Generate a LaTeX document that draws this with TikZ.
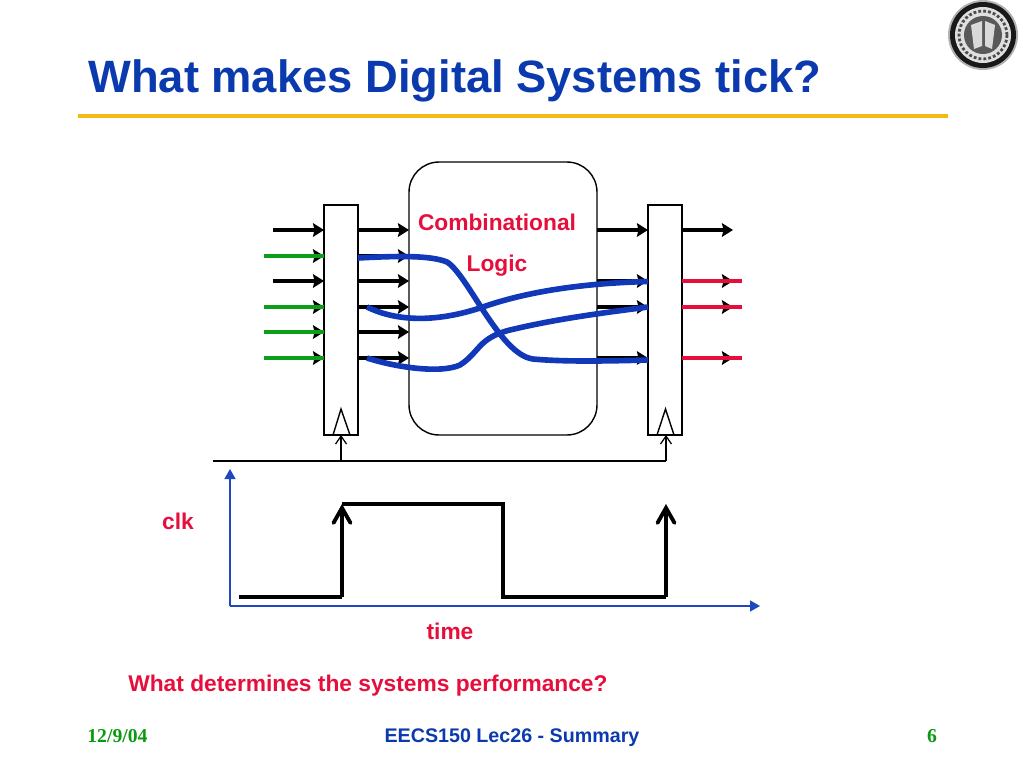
\documentclass[tikz,border=0pt]{standalone}
\usepackage{fontspec}
\setmainfont{Liberation Sans}
\newfontfamily\serifbold{Liberation Serif}
\usepackage{tikz}
\usetikzlibrary{arrows.meta, positioning}
\definecolor{TitleBlue}{HTML}{0B3AAE}
\definecolor{WireBlue}{HTML}{1038B8}
\definecolor{AxisBlue}{HTML}{1F48C0}
\definecolor{LabelRed}{HTML}{E60F3C}
\definecolor{WireGreen}{HTML}{0C9E18}
\definecolor{DateGreen}{HTML}{0A9A10}
\definecolor{RuleGold}{HTML}{F5B914}

\begin{document}
\begin{tikzpicture}[
    x=0.02cm, y=-0.02cm,
    regbox/.style={rectangle, draw, line width=0.8pt, fill=white, minimum width=0.68cm, minimum height=4.6cm, inner sep=0pt, outer sep=0pt},
    logicbox/.style={rectangle, draw, line width=0.8pt, fill=white, rounded corners=0.6cm, minimum width=3.76cm, minimum height=5.46cm, inner sep=0pt, outer sep=0pt},
    arrow/.style={-{Stealth[length=2.2mm, width=2.7mm, inset=0.3mm]}, line width=1.9pt},
    thinarrow/.style={-{Straight Barb[length=1.6mm, width=2.2mm]}, line width=0.7pt},
    greenwire/.style={WireGreen, line width=2.7pt},
    redwire/.style={LabelRed, line width=2.7pt},
    bluewire/.style={WireBlue, line width=3.2pt},
    axis/.style={AxisBlue, line width=0.8pt, -{Triangle[length=2mm, width=2.2mm]}},
    wave/.style={line width=2.2pt},
    waveup/.style={line width=2.2pt, -{Straight Barb[length=3mm, width=3.4mm, line cap=round]}},
    label/.style={font=\fontsize{12.95}{15}\selectfont\bfseries, text=LabelRed, inner sep=0pt}
]
\useasboundingbox (0,0) rectangle (1024,768);

\node[font=\fontsize{25.8}{30}\selectfont\bfseries, text=TitleBlue, inner sep=0pt, anchor=base west] (title) at (88,92) {What makes Digital Systems tick?};
\coordinate (ruleL) at (78,116);
\coordinate (ruleR) at (948,116);
\draw[RuleGold, line width=2.4pt] (ruleL) -- (ruleR);

% seal
\fill[gray!60] (983,35) circle (35);
\fill[black!90] (983,35) circle (33);
\fill[gray!25] (983,35) circle (28);
\draw[black!70, line width=1.6pt, dash pattern=on 1.6pt off 1.2pt] (983,35) circle (24);
\fill[black!65] (983,35) circle (19);
\fill[gray!30] (971,25) -- (982,21) -- (982,46) -- (974,49) -- cycle;
\fill[gray!30] (985,21) -- (995,25) -- (992,49) -- (985,46) -- cycle;

% registers and logic
\node[logicbox] (logic) at (503,298.5) {};
\node[regbox, left=1.02cm of logic.south west, anchor=south east] (ffin) {};
\node[regbox, right=1.02cm of logic.south east, anchor=south west] (ffout) {};

\node[label, anchor=base] (comb) at (497,230) {Combinational};
\node[label, anchor=base] (lgc) at (497,271) {Logic};

% inputs
\coordinate (in1) at (273,230);
\coordinate (in2) at (273,256);
\coordinate (in3) at (273,281);
\coordinate (in4) at (273,307);
\coordinate (in5) at (273,332);
\coordinate (in6) at (273,358);
\draw[arrow] (in1) -- (in1 -| ffin.west);
\draw[arrow] (in2) -- (in2 -| ffin.west);
\draw[arrow] (in3) -- (in3 -| ffin.west);
\draw[arrow] (in4) -- (in4 -| ffin.west);
\draw[arrow] (in5) -- (in5 -| ffin.west);
\draw[arrow] (in6) -- (in6 -| ffin.west);
\draw[greenwire] (264,256) -- (in2 -| ffin.west);
\draw[greenwire] (264,307) -- (in4 -| ffin.west);
\draw[greenwire] (264,332) -- (in5 -| ffin.west);
\draw[greenwire] (264,358) -- (in6 -| ffin.west);

% into the logic
\draw[arrow] (in1 -| ffin.east) -- (in1 -| logic.west);
\draw[arrow] (in2 -| ffin.east) -- (in2 -| logic.west);
\draw[arrow] (in3 -| ffin.east) -- (in3 -| logic.west);
\draw[arrow] (in4 -| ffin.east) -- (in4 -| logic.west);
\draw[arrow] (in5 -| ffin.east) -- (in5 -| logic.west);
\draw[arrow] (in6 -| ffin.east) -- (in6 -| logic.west);

% out of the logic
\draw[arrow] (in1 -| logic.east) -- (in1 -| ffout.west);
\draw[arrow] (in3 -| logic.east) -- (in3 -| ffout.west);
\draw[arrow] (in4 -| logic.east) -- (in4 -| ffout.west);
\draw[arrow] (in6 -| logic.east) -- (in6 -| ffout.west);

% outputs
\coordinate (out1) at (733,230);
\coordinate (out3) at (733,281);
\coordinate (out4) at (733,307);
\coordinate (out6) at (733,358);
\draw[arrow] (ffout.east |- out1) -- (out1);
\draw[arrow] (ffout.east |- out3) -- (out3);
\draw[arrow] (ffout.east |- out4) -- (out4);
\draw[arrow] (ffout.east |- out6) -- (out6);
\draw[redwire] (ffout.east |- out3) -- (742,281);
\draw[redwire] (ffout.east |- out4) -- (742,307);
\draw[redwire] (ffout.east |- out6) -- (742,358);

% paths through the logic
\draw[bluewire] (ffin.east |- 0,258) .. controls (395,256) and (430,255) .. (447,262)
    .. controls (468,275) and (500,355) .. (533,359) .. controls (565,362) and (610,361) .. (ffout.west |- 0,360);
\draw[bluewire] (367,307) .. controls (400,323) and (440,321) .. (480,308)
    .. controls (530,290) and (590,283) .. (ffout.west |- 0,281.5);
\draw[bluewire] (367,358) .. controls (395,367) and (440,374) .. (460,365)
    .. controls (480,352) and (478,338) .. (510,330) .. controls (560,318) and (610,312) .. (ffout.west |- 0,307);

% clock inputs
\coordinate (clkL) at (213,461);
\coordinate (clkR) at (666,461);
\draw[line width=0.8pt] (clkL) -- (clkR);
\draw[thinarrow] (ffin.south |- clkL) -- (ffin.south);
\draw[thinarrow] (clkR) -- (clkR |- ffout.south);
\draw[line width=0.8pt] (333,435) -- (341,409) -- (350,435);
\draw[line width=0.8pt] (657,435) -- (665.5,409) -- (674,435);

% waveform
\coordinate (origin) at (230,606);
\draw[axis] (origin) -- (230,469);
\draw[axis] (origin) -- (760,606);
\coordinate (w1) at (239,597);
\coordinate (w2) at (342,597);
\coordinate (w3) at (342,504);
\coordinate (w4) at (503,504);
\coordinate (w5) at (503,597);
\coordinate (w6) at (666,597);
\coordinate (w7) at (666,504);
\draw[wave] (w1) -- (w2);
\draw[waveup] (w2) -- (w3);
\draw[wave] (w3) -- (w4) -- (w5) -- (w6);
\draw[waveup] (w6) -- (w7);

\node[label, anchor=base] (clk) at (178,529) {clk};
\node[label, anchor=base] (time) at (450,639) {time};
\node[label, anchor=base west] (question) at (128,691) {What determines the systems performance?};

\node[font=\serifbold\fontsize{11.2}{13}\selectfont\bfseries, text=DateGreen, inner sep=0pt, anchor=base west] (date) at (87,742) {12/9/04};
\node[font=\fontsize{11.2}{13}\selectfont\bfseries, text=TitleBlue, inner sep=0pt, anchor=base] (course) at (512,742) {EECS150 Lec26 - Summary};
\node[font=\serifbold\fontsize{11.2}{13}\selectfont\bfseries, text=DateGreen, inner sep=0pt, anchor=base] (page) at (932,742) {6};
\end{tikzpicture}
\end{document}
